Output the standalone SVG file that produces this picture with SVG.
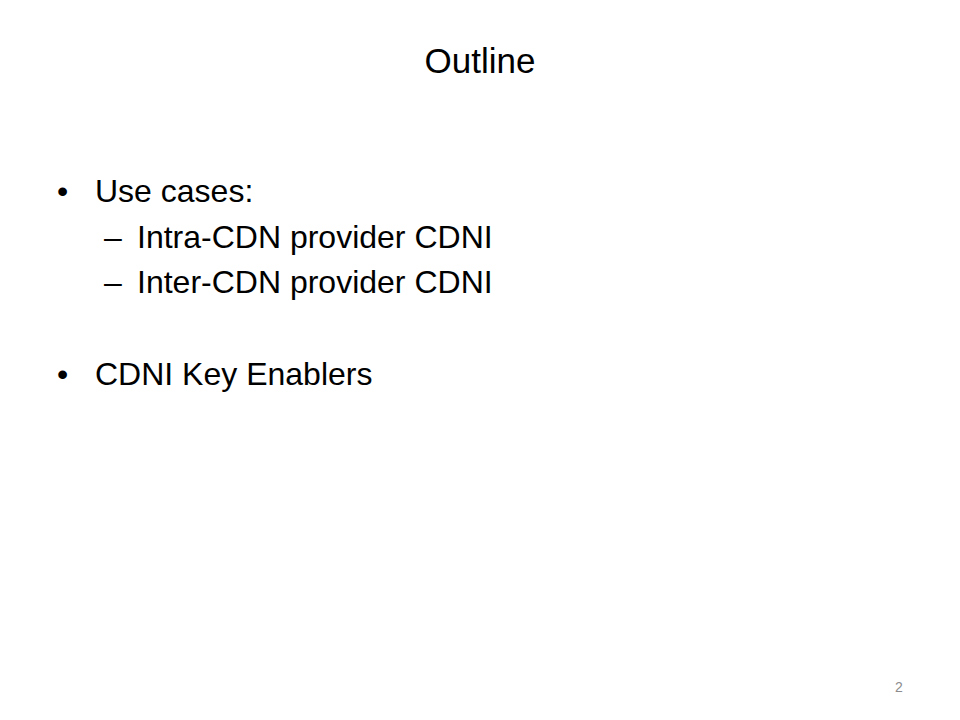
<svg xmlns="http://www.w3.org/2000/svg" width="960" height="720" viewBox="0 0 960 720">
<style>
text{font-family:"Liberation Sans",Arial,sans-serif;fill:#000}
.b{font-size:32px}
.pg{font-size:14px;fill:#8c8c8c}
</style>
<rect width="960" height="720" fill="#fff"/>
<g id="title"><text x="480" y="73" font-size="35" text-anchor="middle">Outline</text></g>
<g id="bullets">
<text class="b" x="57" y="202">•</text>
<text class="b" x="95" y="202">Use cases:</text>
<text class="b" x="104" y="248">–</text>
<text class="b" x="137" y="248">Intra-CDN provider CDNI</text>
<text class="b" x="104" y="293">–</text>
<text class="b" x="137" y="293">Inter-CDN provider CDNI</text>
<text class="b" x="57" y="385">•</text>
<text class="b" x="95" y="385">CDNI Key Enablers</text>
</g>
<g id="page"><text class="pg" x="899" y="692" text-anchor="middle">2</text></g>
</svg>
